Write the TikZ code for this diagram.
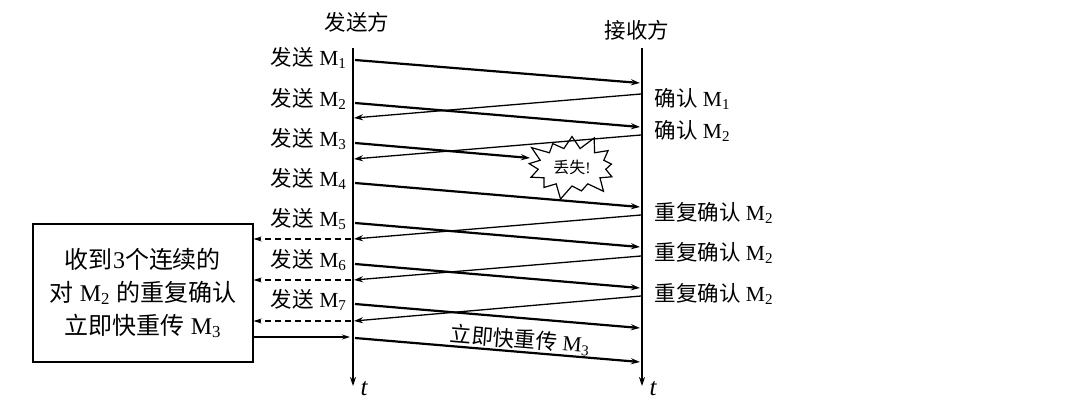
\documentclass[tikz,border=0pt]{standalone}
\usepackage{fontspec}
\setmainfont{Liberation Serif}
\newfontfamily\cjk{Noto Sans CJK SC}
\usetikzlibrary{arrows.meta,shapes.symbols}

\begin{document}
\begin{tikzpicture}[x=1pt,y=-1pt,
	every node/.style={font=\fontsize{21.5}{25}\selectfont},
	life/.style={line width=1.6pt,-{Stealth[length=9pt,width=6pt]}},
	msg/.style={line width=2.2pt,-{Stealth[length=9pt,width=6pt]}},
	ack/.style={line width=1.3pt,-{Stealth[length=9pt,width=6pt]}},
	note/.style={line width=1.3pt,-{Stealth[length=8pt,width=5pt]}}]
	
	\useasboundingbox (0,0) rectangle (1092,407);
	
	% lifelines
	\coordinate (s0) at (353,48); \coordinate (s1) at (353,386);
	\coordinate (r0) at (642,48); \coordinate (r1) at (642,386);
	\draw[life] (s0) -- (s1);
	\draw[life] (r0) -- (r1);
	\node[anchor=west,font=\fontsize{25}{28}\selectfont] (ts) at ([xshift=4pt,yshift=-3pt]s1) {\textit{t}};
	\node[anchor=west,font=\fontsize{25}{28}\selectfont] (tr) at ([xshift=4pt,yshift=-3pt]r1) {\textit{t}};
	
	\node (sender) at (357,22) {\cjk 发送方};
	\node (receiver) at (637,30) {\cjk 接收方};
	
	% lost segment
	\node[starburst,draw,fill=white,line width=1.2pt,minimum width=100pt,minimum height=70pt,
		starburst points=13,starburst point height=16pt,inner sep=2pt,
		font=\fontsize{16}{18}\selectfont] (lost) at (572,167) {{\cjk 丢失}!};
	
	% sender side
	\node[anchor=east] (l1) at (350,58) {{\cjk 发送} M\textsubscript{1}};
	\node[anchor=east] (l2) at (350,99) {{\cjk 发送} M\textsubscript{2}};
	\node[anchor=east] (l3) at (350,139) {{\cjk 发送} M\textsubscript{3}};
	\node[anchor=east] (l4) at (350,179) {{\cjk 发送} M\textsubscript{4}};
	\node[anchor=east] (l5) at (350,219) {{\cjk 发送} M\textsubscript{5}};
	\node[anchor=east] (l6) at (350,260) {{\cjk 发送} M\textsubscript{6}};
	\node[anchor=east] (l7) at (350,300) {{\cjk 发送} M\textsubscript{7}};
	
	% receiver side
	\node[anchor=west] (c1) at (651,99) {{\cjk 确认} M\textsubscript{1}};
	\node[anchor=west] (c2) at (651,131) {{\cjk 确认} M\textsubscript{2}};
	\node[anchor=west] (d1) at (651,213) {{\cjk 重复确认} M\textsubscript{2}};
	\node[anchor=west] (d2) at (651,253) {{\cjk 重复确认} M\textsubscript{2}};
	\node[anchor=west] (d3) at (651,294) {{\cjk 重复确认} M\textsubscript{2}};
	
	% segments
	\coordinate (m1s) at (355,60);  \coordinate (m1r) at (640,83);
	\coordinate (m2s) at (355,103); \coordinate (m2r) at (640,127);
	\coordinate (m3s) at (355,143); \coordinate (m3r) at (530,158);
	\coordinate (m4s) at (355,183); \coordinate (m4r) at (640,207);
	\coordinate (m5s) at (355,223); \coordinate (m5r) at (640,247);
	\coordinate (m6s) at (355,264); \coordinate (m6r) at (640,288);
	\coordinate (m7s) at (355,304); \coordinate (m7r) at (640,328);
	\coordinate (f3s) at (355,338); \coordinate (f3r) at (640,362);
	\draw[msg] (m1s) -- (m1r);
	\draw[msg] (m2s) -- (m2r);
	\draw[msg] (m3s) -- (m3r);
	\draw[msg] (m4s) -- (m4r);
	\draw[msg] (m5s) -- (m5r);
	\draw[msg] (m6s) -- (m6r);
	\draw[msg] (m7s) -- (m7r);
	\draw[msg] (f3s) -- (f3r);
	
	% acks
	\coordinate (a1r) at (641,94);  \coordinate (a1s) at (354,118);
	\coordinate (a2r) at (641,135); \coordinate (a2s) at (354,159);
	\coordinate (a5r) at (641,215); \coordinate (a5s) at (354,239);
	\coordinate (a6r) at (641,256); \coordinate (a6s) at (354,280);
	\coordinate (a7r) at (641,296); \coordinate (a7s) at (354,321);
	\draw[ack] (a1r) -- (a1s);
	\draw[ack] (a2r) -- (a2s);
	\draw[ack] (a5r) -- (a5s);
	\draw[ack] (a6r) -- (a6s);
	\draw[ack] (a7r) -- (a7s);
	
	\node[rotate=-4.7] (fast) at (520,340) {{\cjk 立即快重传} M\textsubscript{3}};
	
	% fast retransmit box
	\node[draw,line width=1.1pt,minimum width=220pt,minimum height=138pt,align=center,
		font=\fontsize{24}{33}\selectfont] (box) at (143,293)
	{{\cjk 收到}3{\cjk 个连续的}\\{\cjk 对} M\textsubscript{2} {\cjk 的重复确认}\\{\cjk 立即快重传} M\textsubscript{3}};
	
	\coordinate (q5) at (351,239);
	\coordinate (q6) at (351,280);
	\coordinate (q7) at (351,321);
	\coordinate (go) at (350,337);
	\draw[note,dash pattern=on 6pt off 4pt] (q5) -- (q5 -| box.east);
	\draw[note,dash pattern=on 6pt off 4pt] (q6) -- (q6 -| box.east);
	\draw[note,dash pattern=on 6pt off 4pt] (q7) -- (q7 -| box.east);
	\draw[note] (box.east |- go) -- (go);
	
\end{tikzpicture}
\end{document}
